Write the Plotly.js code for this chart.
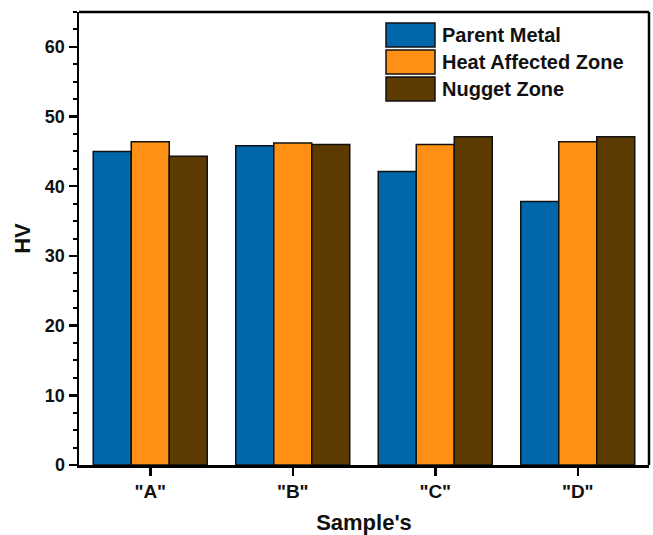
<!DOCTYPE html>
<html><head><meta charset="utf-8">
<script src="https://cdn.plot.ly/plotly-3.0.1.min.js"></script>
<style>html,body{margin:0;padding:0;background:#fff}#chart{width:653px;height:535px}</style>
</head><body><div id="chart"></div>
<script>
const categories = ['"A"', '"B"', '"C"', '"D"'];
const seriesNames = ['Parent Metal', 'Heat Affected Zone', 'Nugget Zone'];
const parentMetal = [45.0, 45.8, 42.1, 37.8];
const heatAffected = [46.4, 46.2, 46.0, 46.4];
const nuggetZone = [44.3, 46.0, 47.1, 47.1];
const colors = ['#0067AA', '#FF9015', '#5C3A00'];
const values = [parentMetal, heatAffected, nuggetZone];

const W = 653, H = 535, L = 79, R = 4, T = 12, B = 70;
const pw = W - L - R, ph = H - T - B;
const px = x => (x - L) / pw;
const py = y => (H - B - y) / ph;

const traces = values.map((v, i) => ({
  type: 'bar', x: categories, y: v, name: seriesNames[i],
  marker: {color: colors[i], line: {color: '#111', width: 1.5}},
  showlegend: false, hoverinfo: 'x+y'
}));

const font = {family: 'Arial, Liberation Sans, sans-serif', color: '#111'};
const shapes = [
  {type: 'line', xref: 'paper', yref: 'paper', x0: 0, x1: 1, y0: 1, y1: 1, line: {color: '#000', width: 2.5}},
  {type: 'line', xref: 'paper', yref: 'paper', x0: 1, x1: 1, y0: 0, y1: 1, line: {color: '#000', width: 2.5}}
];
const annotations = [];
const swTop = [23, 50, 77];
seriesNames.forEach((n, i) => {
  shapes.push({type: 'rect', xref: 'paper', yref: 'paper',
    x0: px(386), x1: px(435), y0: py(swTop[i]), y1: py(swTop[i] + 24),
    fillcolor: colors[i], line: {color: '#111', width: 1.5}});
  annotations.push({xref: 'paper', yref: 'paper', x: px(440), y: py(swTop[i] + 12),
    xanchor: 'left', yanchor: 'middle', showarrow: false, text: '<b>' + n + '</b>',
    font: Object.assign({size: 20}, font)});
});

const layout = {
  width: W, height: H,
  margin: {l: L, r: R, t: T, b: B},
  paper_bgcolor: '#fff', plot_bgcolor: '#fff',
  barmode: 'group', bargap: 0.2, bargroupgap: 0,
  font: font,
  xaxis: {
    type: 'category', range: [-0.5, 3.5],
    showline: true, linecolor: '#000', linewidth: 2.5,
    ticks: 'outside', ticklen: 8, tickwidth: 2.5, tickcolor: '#000',
    showgrid: false, zeroline: false,
    tickfont: Object.assign({size: 19}, font),
    title: {text: "<b>Sample's</b>", font: Object.assign({size: 22}, font), standoff: 14}
  },
  yaxis: {
    range: [0, 65], dtick: 10, tick0: 0,
    showline: true, linecolor: '#000', linewidth: 2.5,
    ticks: 'outside', ticklen: 8, tickwidth: 2.5, tickcolor: '#000',
    minor: {dtick: 2.5, ticks: 'outside', ticklen: 4, tickwidth: 2, tickcolor: '#000'},
    showgrid: false, zeroline: false,
    tickfont: Object.assign({size: 18}, font),
    tickprefix: '<b>', ticksuffix: '</b>',
    title: {text: '<b>HV</b>', font: Object.assign({size: 22}, font), standoff: 8}
  },
  shapes: shapes, annotations: annotations, showlegend: false
};
layout.xaxis.tickvals = categories;
layout.xaxis.ticktext = categories.map(c => '<b>' + c + '</b>');
Plotly.newPlot('chart', traces, layout, {displayModeBar: false, staticPlot: true});
</script></body></html>
